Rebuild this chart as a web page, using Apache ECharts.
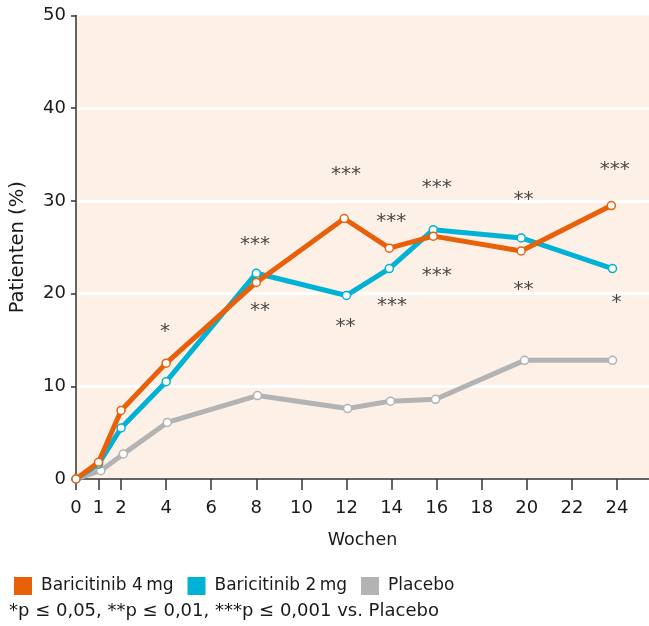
<!DOCTYPE html>
<html>
<head>
<meta charset="utf-8">
<script src="https://cdn.jsdelivr.net/npm/echarts@6/dist/echarts.min.js"></script>
<style>
html,body{margin:0;padding:0;background:#fff;}
#chart{width:649px;height:626px;}
</style>
</head>
<body>
<div id="chart"></div>
<script>
// ---- data ----
const xTickValues = [0, 1, 2, 4, 6, 8, 10, 12, 14, 16, 18, 20, 22, 24];
const yTickValues = [0, 10, 20, 30, 40, 50];

const seriesNames = ['Baricitinib 4\u2009mg', 'Baricitinib 2\u2009mg', 'Placebo'];

const weeks4mg   = [0, 1, 2, 4, 8, 11.9, 13.9, 15.85, 19.75, 23.75];
const values4mg  = [0, 1.8, 7.4, 12.5, 21.2, 28.1, 24.9, 26.2, 24.6, 29.5];

const weeks2mg   = [0, 1, 2, 4, 8, 12, 13.9, 15.85, 19.75, 23.8];
const values2mg  = [0, 1.6, 5.5, 10.5, 22.2, 19.8, 22.7, 26.9, 26.0, 22.7];

const weeksPlacebo  = [0, 1.1, 2.1, 4.05, 8.05, 12.05, 13.95, 15.95, 19.9, 23.8];
const valuesPlacebo = [0, 0.9, 2.7, 6.1, 9.0, 7.6, 8.4, 8.6, 12.8, 12.8];

const sigWeeks  = [3.95, 7.94, 8.16, 11.98, 11.96, 13.98, 14.02, 16.0, 16.0, 19.85, 19.85, 23.9, 23.98];
const sigLevels = [16.3, 25.7, 18.6, 33.3, 16.9, 28.2, 19.1, 31.8, 22.4, 30.5, 20.8, 33.8, 19.4];
const sigTexts  = ['*', '***', '**', '***', '**', '***', '***', '***', '***', '**', '**', '***', '*'];

const footnote = '*p \u2264 0,05, **p \u2264 0,01, ***p \u2264 0,001 vs. Placebo';
const xTitle = 'Wochen';
const yTitle = 'Patienten (%)';

// ---- styles ----
const colors = ['#e8600a', '#00b2d6', '#b3b3b3'];
const FONT = 'DejaVu Sans';
const TXT = '#1a1a1a';

function pairs(xs, ys) { return xs.map((x, i) => [x, ys[i]]); }

function lineSeries(name, xs, ys, color, z) {
  return {
    name: name,
    type: 'line',
    data: pairs(xs, ys),
    z: z,
    symbol: 'circle',
    symbolSize: 8,
    showSymbol: true,
    lineStyle: { width: 5, color: color, cap: 'round', join: 'round' },
    itemStyle: { color: '#ffffff', borderColor: color, borderWidth: 1.5 },
    emphasis: { disabled: true },
    animation: false
  };
}

const chart = echarts.init(document.getElementById('chart'), null, { renderer: 'canvas' });

const option = {
  animation: false,
  textStyle: { fontFamily: FONT },
  grid: {
    left: 75, right: 0, top: 15.5, bottom: 147,
    show: true, backgroundColor: '#fdf0e7', borderWidth: 0
  },
  legend: {
    left: 9, top: 572,
    icon: 'rect',
    itemWidth: 18, itemHeight: 18, itemGap: 14,
    selectedMode: false,
    textStyle: { fontFamily: FONT, fontSize: 17, color: TXT, padding: [0, 0, 0, 4] },
    data: seriesNames.map((n, i) => ({ name: n, itemStyle: { color: colors[i], borderWidth: 0 } }))
  },
  xAxis: {
    type: 'value',
    min: 0, max: 25.42,
    name: xTitle,
    nameLocation: 'middle',
    nameGap: 52,
    nameTextStyle: { fontFamily: FONT, fontSize: 17.5, color: TXT },
    axisLine: { show: true, onZero: false, lineStyle: { color: '#333', width: 1.5 } },
    axisTick: { show: true, inside: false, length: 11, customValues: xTickValues, lineStyle: { color: '#333', width: 1.5 } },
    axisLabel: { show: true, margin: 20, customValues: xTickValues, fontFamily: FONT, fontSize: 18, color: TXT },
    splitLine: { show: false }
  },
  yAxis: {
    type: 'value',
    min: 0, max: 50, interval: 10,
    name: yTitle,
    nameLocation: 'middle',
    nameGap: 48,
    nameRotate: 90,
    nameTextStyle: { fontFamily: FONT, fontSize: 19.5, color: TXT },
    axisLine: { show: true, lineStyle: { color: '#333', width: 1.5 } },
    axisTick: { show: true, inside: false, length: 5, lineStyle: { color: '#333', width: 1.5 } },
    axisLabel: { show: true, margin: 10, fontFamily: FONT, fontSize: 18, color: TXT },
    splitLine: { show: true, showMinLine: false, showMaxLine: false, lineStyle: { color: '#ffffff', width: 3 } }
  },
  series: [
    lineSeries(seriesNames[2], weeksPlacebo, valuesPlacebo, colors[2], 2),
    lineSeries(seriesNames[1], weeks2mg, values2mg, colors[1], 3),
    lineSeries(seriesNames[0], weeks4mg, values4mg, colors[0], 4),
    {
      name: 'sig',
      type: 'scatter',
      z: 5,
      symbolSize: 0,
      data: sigWeeks.map((x, i) => ({ value: [x, sigLevels[i]], label: { formatter: sigTexts[i] } })),
      label: {
        show: true, position: 'inside', offset: [0, 4],
        fontFamily: FONT, fontSize: 20, color: TXT
      },
      emphasis: { disabled: true },
      silent: true,
      animation: false
    }
  ],
  graphic: [
    {
      type: 'text',
      left: 9, top: 602,
      style: { text: footnote, fontFamily: FONT, fontSize: 18, fill: TXT }
    }
  ]
};

chart.setOption(option);
</script>
</body>
</html>
